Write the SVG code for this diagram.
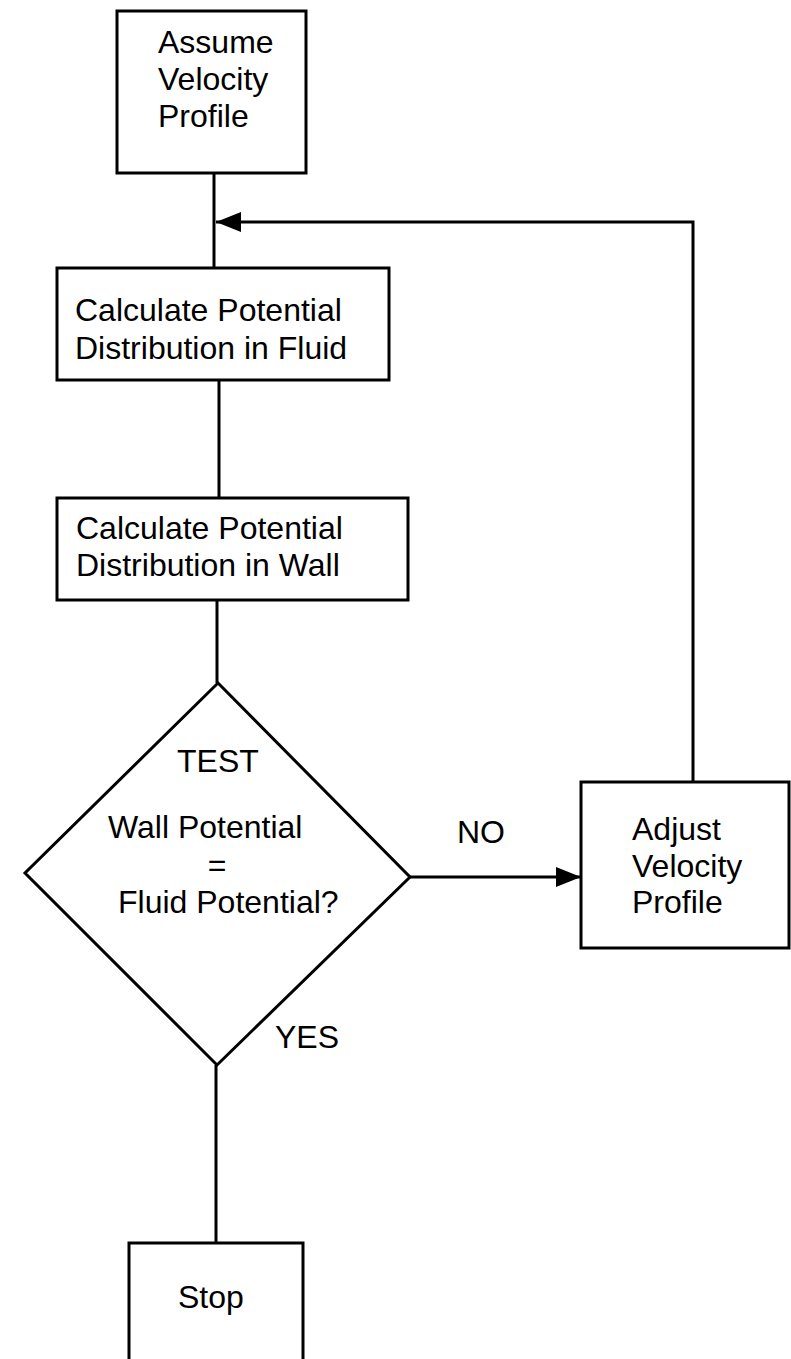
<svg xmlns="http://www.w3.org/2000/svg" width="791" height="1359" viewBox="0 0 791 1359">
<style>
.box{fill:none;stroke:#000;stroke-width:3}
.ln{fill:none;stroke:#000;stroke-width:3}
text{font-family:"Liberation Sans",Arial,sans-serif;font-size:32px;fill:#000}
</style>
<defs>
<marker id="ah" markerUnits="userSpaceOnUse" markerWidth="26" markerHeight="22" refX="25" refY="11" orient="auto">
<path d="M0,1 L25,11 L0,21 Z" fill="#000"/>
</marker>
</defs>
<rect width="791" height="1359" fill="#fff"/>
<g id="connectors">
<path class="ln" d="M214,173 V268"/>
<path class="ln" d="M693,782 V222 H216" marker-end="url(#ah)"/>
<path class="ln" d="M219,380 V498"/>
<path class="ln" d="M217,600 V683"/>
<path class="ln" d="M410,877 H581" marker-end="url(#ah)"/>
<path class="ln" d="M216,1065 V1243"/>
</g>
<g id="assume">
<rect class="box" x="117" y="11" width="189" height="162"/>
<text x="158" y="53">Assume</text>
<text x="158" y="90">Velocity</text>
<text x="158" y="127">Profile</text>
</g>
<g id="calc-fluid">
<rect class="box" x="57" y="268" width="332" height="112"/>
<text x="75" y="321">Calculate Potential</text>
<text x="75" y="359">Distribution in Fluid</text>
</g>
<g id="calc-wall">
<rect class="box" x="57" y="498" width="351" height="102"/>
<text x="76" y="539">Calculate Potential</text>
<text x="76" y="576">Distribution in Wall</text>
</g>
<g id="test">
<path class="box" d="M218,683 L410,877 L217,1065 L25,873 Z"/>
<text x="177" y="772">TEST</text>
<text x="108" y="838">Wall Potential</text>
<text x="217" y="876" text-anchor="middle">=</text>
<text x="118" y="913">Fluid Potential?</text>
</g>
<g id="labels">
<text x="457" y="843">NO</text>
<text x="275" y="1048">YES</text>
</g>
<g id="adjust">
<rect class="box" x="581" y="782" width="208" height="166"/>
<text x="632" y="840">Adjust</text>
<text x="632" y="877">Velocity</text>
<text x="632" y="913">Profile</text>
</g>
<g id="stop">
<path class="box" d="M129,1365 V1243 H303 V1365"/>
<text x="178" y="1308">Stop</text>
</g>
</svg>
